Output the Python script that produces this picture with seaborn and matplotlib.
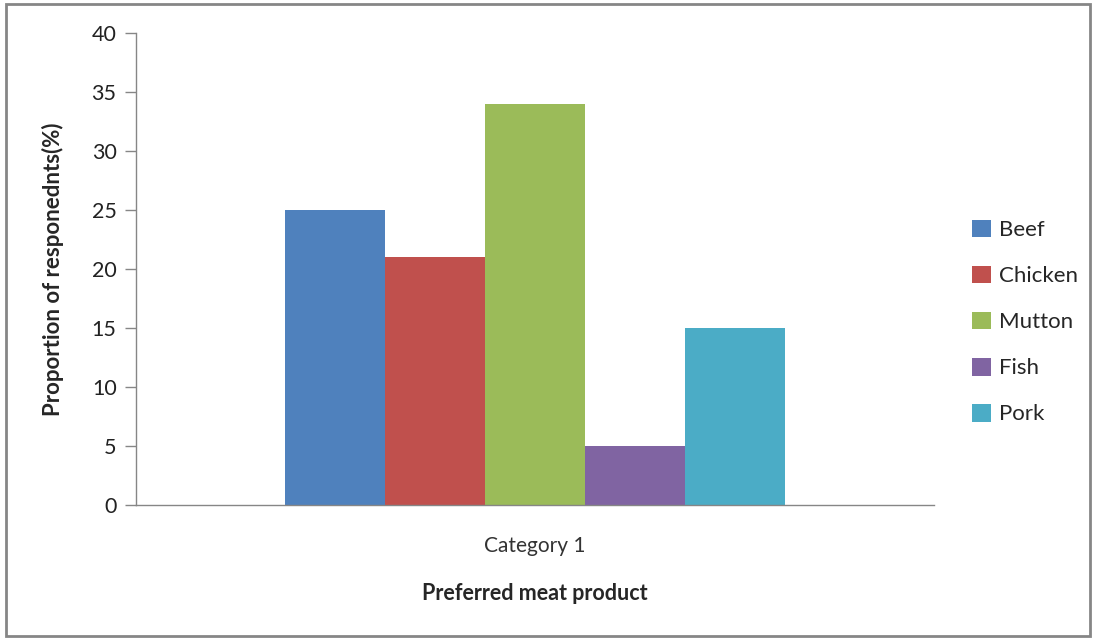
import matplotlib
matplotlib.use("Agg")
import matplotlib.pyplot as plt
import seaborn as sns
import pandas as pd
from matplotlib.patches import Rectangle

categories = ["Category 1"]
meats = ["Beef", "Chicken", "Mutton", "Fish", "Pork"]
values = [25, 21, 34, 5, 15]
colors = ["#4F81BD", "#C0504D", "#9BBB59", "#8064A2", "#4BACC6"]
y_ticks = [0, 5, 10, 15, 20, 25, 30, 35, 40]

sns.set_theme(style="white")
plt.rcParams["font.family"] = ["Lato", "DejaVu Sans"]

df = pd.DataFrame({
    "category": categories * len(meats),
    "meat": meats,
    "value": values,
})

fig = plt.figure(figsize=(10.94, 6.38), dpi=100)
ax = fig.add_axes([136 / 1094, 1 - 505 / 638, (934 - 136) / 1094, (505 - 33) / 638])

sns.barplot(data=df, x="category", y="value", hue="meat", hue_order=meats,
            palette=colors, width=0.627, saturation=1, ax=ax, errorbar=None,
            edgecolor="none", linewidth=0)

ax.set_xlim(-0.5, 0.5)
ax.set_ylim(0, 40)
ax.set_yticks(y_ticks)
ax.set_yticklabels([str(t) for t in y_ticks], fontsize=15.5, color="#222222")
ax.set_xticks([0])
ax.set_xticklabels(categories, fontsize=15, color="#333333")
ax.tick_params(axis="y", direction="out", length=8, width=1, color="#868686", pad=6, left=True)
ax.tick_params(axis="x", length=0, pad=22)

for side in ["top", "right"]:
    ax.spines[side].set_visible(False)
for side in ["left", "bottom"]:
    ax.spines[side].set_color("#868686")
    ax.spines[side].set_linewidth(1)

ax.set_xlabel("Preferred meat product", fontsize=15.5, fontweight="bold", labelpad=20)
ax.set_ylabel("Proportion of responednts(%)", fontsize=16, fontweight="bold", labelpad=20)

leg = ax.legend(loc="center left", bbox_to_anchor=(963 / 1094, 1 - 322 / 638),
                bbox_transform=fig.transFigure, frameon=False, fontsize=16,
                handlelength=0.85, handleheight=0.85, handletextpad=0.35,
                labelspacing=1.15, borderaxespad=0)

# outer chart border
fig.patches.append(Rectangle((6 / 1094, 2 / 638), 1084 / 1094, 632 / 638,
                             transform=fig.transFigure, fill=False,
                             edgecolor="#868686", linewidth=2))

fig.savefig("out.png", dpi=100)
